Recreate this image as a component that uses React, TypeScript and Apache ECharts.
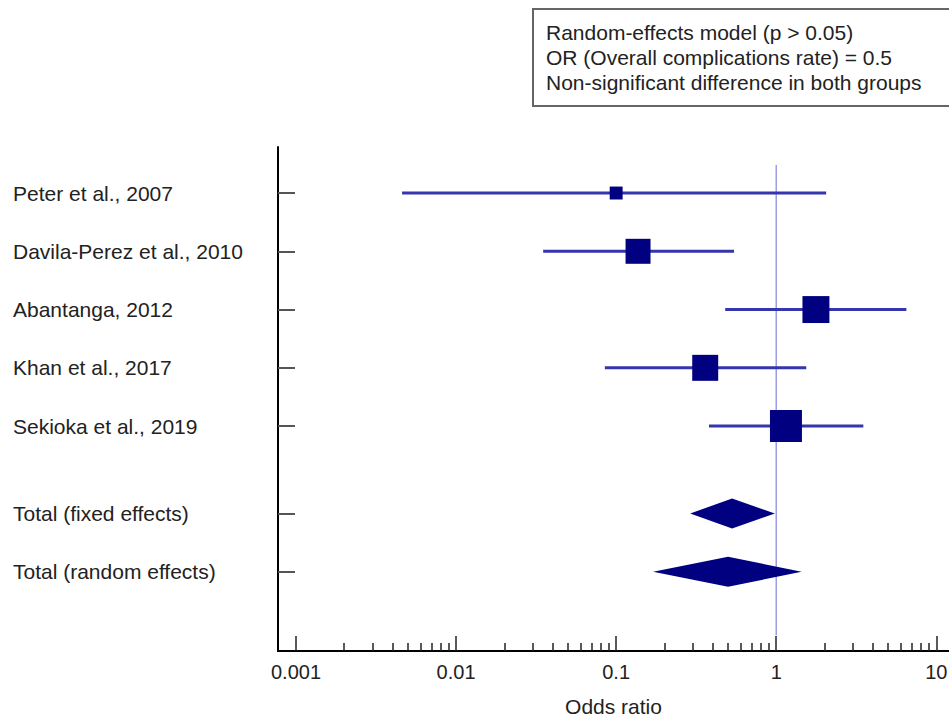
import React, { useEffect, useRef } from "react";
import * as echarts from "echarts";

const studies = [
  "Peter et al., 2007",
  "Davila-Perez et al., 2010",
  "Abantanga, 2012",
  "Khan et al., 2017",
  "Sekioka et al., 2019",
];
const studyRows = [0, 1, 2, 3, 4];
const studyOR = [0.1, 0.137, 1.77, 0.36, 1.15];
const studyLower = [0.0046, 0.035, 0.48, 0.085, 0.38];
const studyUpper = [2.05, 0.545, 6.5, 1.54, 3.5];
const studyWeight = [5.2, 19.4, 22.6, 21.0, 31.8];

const totals = ["Total (fixed effects)", "Total (random effects)"];
const totalRows = [5.5, 6.5];
const totalOR = [0.53, 0.5];
const totalLower = [0.29, 0.17];
const totalUpper = [0.98, 1.44];

const refValue = 1;

const majorTicks = [0.001, 0.01, 0.1, 1, 10];
const majorTickLabels = ["0.001", "0.01", "0.1", "1", "10"];
const minorTicks = [
  0.002, 0.003, 0.004, 0.005, 0.006, 0.007, 0.008, 0.009,
  0.02, 0.03, 0.04, 0.05, 0.06, 0.07, 0.08, 0.09,
  0.2, 0.3, 0.4, 0.5, 0.6, 0.7, 0.8, 0.9,
  2, 3, 4, 5, 6, 7, 8, 9,
];

const boxLines = [
  "Random-effects model (p > 0.05)",
  "OR (Overall complications rate) = 0.5",
  "Non-significant difference in both groups",
];

const xAxisName = "Odds ratio";

const FONT = "'Liberation Sans', Arial, Helvetica, sans-serif";

export default function App() {
  const ref = useRef<HTMLDivElement>(null);

  useEffect(() => {
    if (!ref.current) return;
    const chart = echarts.init(ref.current, null, { renderer: "svg" });

    const allRows = [...studyRows, ...totalRows];
    const allLabels = [...studies, ...totals];
    const xMin = 0.000772;
    const xMax = 12;

    const rowLabel = (v: number) => {
      const i = allRows.findIndex((r) => Math.abs(r - v) < 1e-6);
      return i >= 0 ? allLabels[i] : "";
    };
    const tickLabel = (v: number) => {
      const i = majorTicks.findIndex((t) => Math.abs(Math.log10(t) - Math.log10(v)) < 1e-6);
      return i >= 0 ? majorTickLabels[i] : "";
    };

    const option: any = {
      animation: false,
      title: {
        text: boxLines.join("\n"),
        left: 533,
        top: 9,
        padding: [11, 60, 11, 13],
        borderColor: "#666",
        borderWidth: 2,
        textStyle: {
          fontSize: 21,
          fontWeight: "normal",
          color: "#222",
          lineHeight: 25,
          fontFamily: FONT,
        },
      },
      grid: {
        left: 278,
        right: 0,
        top: 147,
        bottom: 69,
        containLabel: false,
        outerBoundsMode: "none",
      },
      xAxis: [
        {
          type: "log",
          logBase: 10,
          min: xMin,
          max: xMax,
          position: "bottom",
          name: xAxisName,
          nameLocation: "middle",
          nameGap: 45,
          nameTextStyle: { fontSize: 21, color: "#222", fontFamily: FONT },
          splitLine: { show: false },
          axisLine: { show: true, onZero: false, lineStyle: { color: "#000", width: 2 } },
          axisTick: {
            show: true,
            inside: true,
            length: 15,
            customValues: majorTicks,
            lineStyle: { color: "#222", width: 1.5 },
          },
          axisLabel: {
            show: true,
            customValues: majorTicks,
            formatter: (v: number) => tickLabel(v),
            margin: 11,
            fontSize: 20,
            color: "#222",
            fontFamily: FONT,
          },
        },
        {
          type: "log",
          logBase: 10,
          min: xMin,
          max: xMax,
          position: "bottom",
          splitLine: { show: false },
          axisLine: { show: false, onZero: false },
          axisLabel: { show: false },
          axisTick: {
            show: true,
            inside: true,
            length: 8,
            customValues: minorTicks,
            lineStyle: { color: "#222", width: 1.5 },
          },
        },
      ],
      yAxis: {
        type: "value",
        inverse: true,
        min: -0.79,
        max: 7.86,
        splitLine: { show: false },
        axisLine: { show: true, onZero: false, lineStyle: { color: "#000", width: 2 } },
        axisTick: {
          show: true,
          inside: true,
          length: 17,
          customValues: allRows,
          lineStyle: { color: "#555", width: 2 },
        },
        axisLabel: {
          show: true,
          customValues: allRows,
          formatter: (v: number) => rowLabel(v),
          align: "left",
          margin: 265,
          fontSize: 21,
          color: "#222",
          fontFamily: FONT,
        },
      },
      series: [
        {
          type: "custom",
          name: "reference",
          xAxisIndex: 0,
          yAxisIndex: 0,
          data: [[refValue, -0.48, 7.59]],
          encode: { x: 0, y: [1, 2] },
          renderItem: (params: any, api: any) => {
            const a = api.coord([api.value(0), api.value(1)]);
            const b = api.coord([api.value(0), api.value(2)]);
            return {
              type: "line",
              shape: { x1: a[0], y1: a[1], x2: b[0], y2: b[1] },
              style: { stroke: "#9c9ce2", lineWidth: 1.5 },
            };
          },
        },
        {
          type: "custom",
          name: "ci",
          xAxisIndex: 0,
          yAxisIndex: 0,
          data: studies.map((_, i) => [studyLower[i], studyUpper[i], studyRows[i]]),
          encode: { x: [0, 1], y: 2 },
          renderItem: (params: any, api: any) => {
            const a = api.coord([api.value(0), api.value(2)]);
            const b = api.coord([api.value(1), api.value(2)]);
            return {
              type: "line",
              shape: { x1: a[0], y1: a[1], x2: b[0], y2: b[1] },
              style: { stroke: "#3535ad", lineWidth: 3 },
            };
          },
        },
        {
          type: "scatter",
          name: "studies",
          xAxisIndex: 0,
          yAxisIndex: 0,
          symbol: "rect",
          symbolSize: (val: number[]) => 5.67 * Math.sqrt(val[2]),
          itemStyle: { color: "#000080", opacity: 1 },
          data: studies.map((_, i) => [studyOR[i], studyRows[i], studyWeight[i]]),
        },
        {
          type: "custom",
          name: "totals",
          xAxisIndex: 0,
          yAxisIndex: 0,
          data: totals.map((_, i) => [totalOR[i], totalLower[i], totalUpper[i], totalRows[i]]),
          encode: { x: [0, 1, 2], y: 3 },
          renderItem: (params: any, api: any) => {
            const c = api.coord([api.value(0), api.value(3)]);
            const l = api.coord([api.value(1), api.value(3)]);
            const u = api.coord([api.value(2), api.value(3)]);
            const h = 15;
            return {
              type: "polygon",
              shape: {
                points: [
                  [l[0], l[1]],
                  [c[0], c[1] - h],
                  [u[0], u[1]],
                  [c[0], c[1] + h],
                ],
              },
              style: { fill: "#000080" },
            };
          },
        },
      ],
    };

    chart.setOption(option);
    return () => chart.dispose();
  }, []);

  return (
    <div
      ref={ref}
      style={{ position: "absolute", left: 0, top: 0, width: 949, height: 720, background: "#fff" }}
    />
  );
}
